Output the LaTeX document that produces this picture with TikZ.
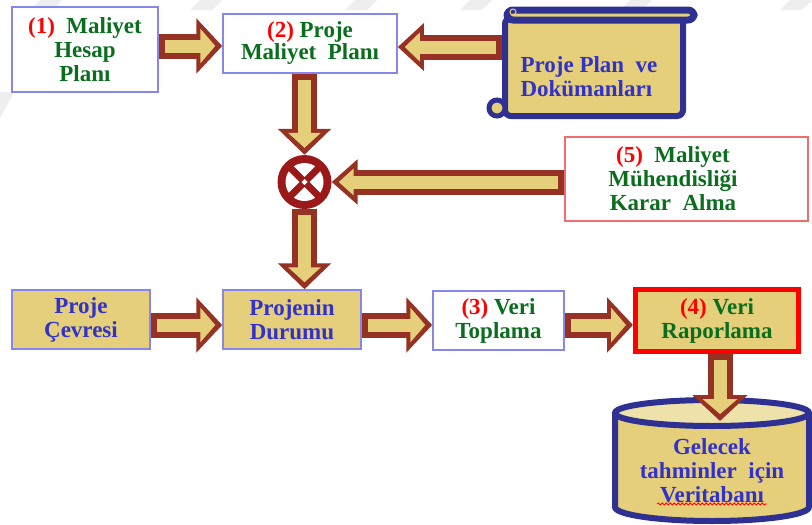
\documentclass[tikz,border=0pt]{standalone}
\usepackage{fontspec}
\setmainfont{Liberation Serif}
\usetikzlibrary{arrows.meta,calc,decorations.pathmorphing}
\definecolor{gold}{RGB}{229,207,122}
\definecolor{goldlight}{RGB}{238,226,170}
\definecolor{navy}{RGB}{46,49,146}
\definecolor{arrowred}{RGB}{150,50,35}
\definecolor{boxblue}{RGB}{135,135,235}
\definecolor{boxred}{RGB}{240,110,110}
\definecolor{txtgreen}{RGB}{10,110,30}
\definecolor{txtblue}{RGB}{50,50,200}
\definecolor{sumred}{RGB}{155,25,25}
\definecolor{stripe}{RGB}{238,238,238}
\newcommand{\blockarr}[4]{%
  \draw[line width=25pt, arrowred, -{Triangle[length=26pt,width=#1]}] (#3) -- (#4);
  \draw[line width=13pt, gold, shorten <=6pt, shorten >=7pt, -{Triangle[length=15pt,width=#2]}] (#3) -- (#4);}
\newcommand{\rd}[1]{{\color{red}#1}}
\begin{document}
\begin{tikzpicture}[x=1pt,y=-1pt,
  box/.style={line width=1.5pt, inner sep=0pt, align=center, font=\bfseries\fontsize{23}{24}\selectfont},
  whitebox/.style={box, draw=boxblue, fill=white, text=txtgreen},
  goldbox/.style={box, draw=boxblue, fill=gold, text=txtblue},
  plain/.style={inner sep=0pt, align=center, font=\bfseries\fontsize{23}{24}\selectfont}]
\useasboundingbox[fill=white] (0,0) rectangle (812,525);

% faint background stripes
\foreach \sx in {40,200,355,470,630,790}
  \fill[stripe] (\sx,0) -- (\sx+22,0) -- (\sx+12,10) -- (\sx-10,10) -- cycle;
\fill[stripe] (0,92) -- (14,92) -- (0,118) -- cycle;

% top row
\node[whitebox, minimum width=146, minimum height=85] (b1) at (85,49.5)
  {\rd{(1)}~~Maliyet\\Hesap\\Planı};
\node[whitebox, minimum width=174, minimum height=59, font=\bfseries\fontsize{23}{22}\selectfont] (b2) at (310,43.5)
  {\rd{(2)} Proje\\Maliyet~~Planı};

% scroll
\node[draw=navy, fill=gold, line width=6pt, rounded corners=6pt, minimum width=178, minimum height=98] (scroll) at (594,67) {};
\draw[navy, line width=7pt, fill=gold, rounded corners=6pt] (507,10) rectangle (694,20);
\draw[gold, line width=1pt] (513,12) circle (3pt);
\draw[navy, line width=5pt, fill=gold] (497,108) circle (8pt);
\node[plain, align=left, text=txtblue] (scrolltxt) at (589,77) {Proje Plan~~ve\\Dokümanları};

% summing junction
\node[circle, fill=sumred, minimum size=54, inner sep=0pt] (sum) at (304.5,182) {};
\fill[white] (sum) circle (19pt);
\draw[sumred, line width=7pt] ($(sum)+(-15,-15)$) -- ($(sum)+(15,15)$);
\draw[sumred, line width=7pt] ($(sum)+(-15,15)$) -- ($(sum)+(15,-15)$);
\fill[white] ($(sum)+(0,-3)$) -- ($(sum)+(3,0)$) -- ($(sum)+(0,3)$) -- ($(sum)+(-3,0)$) -- cycle;

% box 5
\node[box, draw=boxred, fill=white, minimum width=243, minimum height=84] (b5) at (686.5,179) {};
\node[plain, text=txtgreen] (b5txt) at (673,179) {\rd{(5)}~~Maliyet\\Mühendisliği\\Karar~~Alma};

% bottom row
\node[goldbox, minimum width=138, minimum height=59] (pc) at (81,319.5) {Proje\\Çevresi};
\node[goldbox, minimum width=138, minimum height=59] (pd) at (292,319.5) {Projenin\\Durumu};
\node[whitebox, minimum width=131, minimum height=59] (vt) at (498.5,320.5) {\rd{(3)} Veri\\Toplama};
\node[box, draw=red, line width=5pt, fill=gold, text=txtgreen, minimum width=163, minimum height=62] (vr) at (717,320.5) {\rd{(4)} Veri\\Raporlama};

% cylinder
\fill[gold] (615,413) -- (615,507) arc[start angle=180, end angle=360, x radius=97pt, y radius=14pt] -- (809,413) -- cycle;
\draw[navy, line width=6pt] (615,413) -- (615,507) arc[start angle=180, end angle=360, x radius=97pt, y radius=14pt] -- (809,413);
\draw[navy, line width=6pt, fill=goldlight] (712,413) ellipse [x radius=97pt, y radius=13pt];
\node[plain, text=txtblue] (db) at (712,471) {Gelecek\\tahminler~~için\\Veritabanı};
\draw[red, line width=0.8pt, decorate, decoration={snake, amplitude=1pt, segment length=4pt}] (657,504) -- (767,504);
\coordinate (dbtop) at (720,421);

% arrows
\blockarr{54pt}{34pt}{b1.east |- 0,46}{b2.west |- 0,46}
\blockarr{46pt}{28pt}{scroll.west |- 0,47}{b2.east |- 0,47}
\blockarr{52pt}{32pt}{b2.south -| sum}{sum.north}
\blockarr{44pt}{26pt}{b5.west |- sum}{sum.east}
\blockarr{52pt}{32pt}{sum.south}{sum.south |- pd.north}
\blockarr{54pt}{34pt}{pc.east |- 0,325}{pd.west |- 0,325}
\blockarr{54pt}{34pt}{pd.east |- 0,325}{vt.west |- 0,325}
\blockarr{54pt}{34pt}{vt.east |- 0,325}{vr.west |- 0,325}
\blockarr{54pt}{34pt}{vr.south -| dbtop}{dbtop}
\end{tikzpicture}
\end{document}
